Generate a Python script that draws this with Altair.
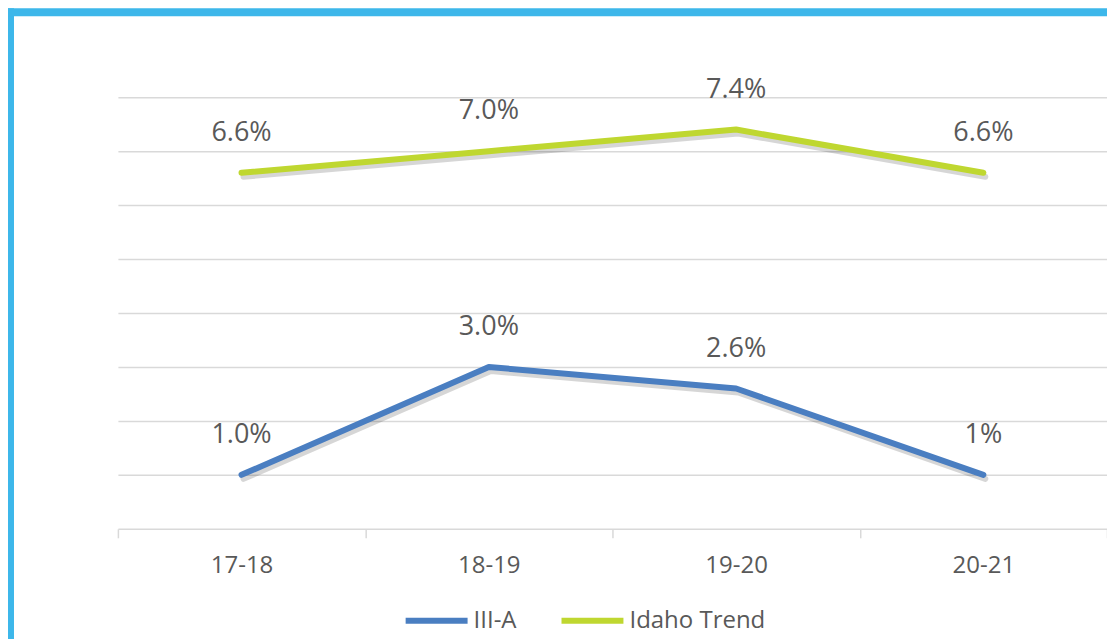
import altair as alt
import pandas as pd

years = ["17-18", "18-19", "19-20", "20-21"]
series_names = ["III-A", "Idaho Trend"]
iiia_values = [1.0, 3.0, 2.6, 1.0]
iiia_labels = ["1.0%", "3.0%", "2.6%", "1%"]
idaho_values = [6.6, 7.0, 7.4, 6.6]
idaho_labels = ["6.6%", "7.0%", "7.4%", "6.6%"]
colors = ["#4A7EC1", "#BFD730"]
grid_values = [1, 2, 3, 4, 5, 6, 7, 8]

rows = []
for y, v, l in zip(years, iiia_values, iiia_labels):
    rows.append({"year": y, "series": series_names[0], "value": v, "label": l})
for y, v, l in zip(years, idaho_values, idaho_labels):
    rows.append({"year": y, "series": series_names[1], "value": v, "label": l})
df = pd.DataFrame(rows)

FONT = "Open Sans"
GRAY = "#595959"

x_enc = alt.X(
    "year:N",
    sort=years,
    scale=alt.Scale(type="band", domain=years, paddingInner=0, paddingOuter=0),
    axis=alt.Axis(
        title=None,
        tickBand="extent",
        labelAngle=0,
        labelFont=FONT,
        labelFontSize=24,
        labelColor=GRAY,
        labelPadding=16,
        tickSize=9,
        tickColor="#D9D9D9",
        tickWidth=1.5,
        domainColor="#D9D9D9",
        domainWidth=1.5,
        grid=False,
    ),
)
y_enc = alt.Y(
    "value:Q",
    scale=alt.Scale(domain=[0, 8], nice=False, zero=True),
    axis=alt.Axis(
        title=None,
        labels=False,
        ticks=False,
        domain=False,
        grid=True,
        values=grid_values,
        gridColor="#D9D9D9",
        gridWidth=1.5,
    ),
)

base = alt.Chart(df)

shadow = base.mark_line(
    strokeWidth=6, strokeCap="round", strokeJoin="round",
    color="#000000", opacity=0.16, xOffset=2, yOffset=4
).encode(x=x_enc, y=y_enc, detail="series:N")

lines = base.mark_line(strokeWidth=6, strokeCap="round", strokeJoin="round").encode(
    x=x_enc,
    y=y_enc,
    color=alt.Color(
        "series:N",
        scale=alt.Scale(domain=series_names, range=colors),
        legend=alt.Legend(
            title=None,
            orient="none",
            direction="horizontal",
            legendX=285,
            legendY=490,
            symbolType="stroke",
            symbolSize=3844,
            symbolStrokeWidth=6,
            labelFont=FONT,
            labelFontSize=24,
            labelColor=GRAY,
            labelOffset=3,
            columnPadding=32,
            padding=0,
        ),
    ),
)

labels = base.mark_text(
    font=FONT, fontSize=27, color=GRAY, dy=-40, baseline="middle", align="center"
).encode(x=x_enc, y=y_enc, text="label:N")

border_data = alt.Data(values=[{"a": 1}])
left_border = alt.Chart(border_data).mark_rect(color="#3DB7EA").encode(
    x=alt.value(-110), x2=alt.value(-104), y=alt.value(-89), y2=alt.value(545)
)
top_border = alt.Chart(border_data).mark_rect(color="#3DB7EA").encode(
    x=alt.value(-110), x2=alt.value(1000), y=alt.value(-89), y2=alt.value(-81)
)

chart = alt.layer(shadow, lines, labels, left_border, top_border).properties(
    width=990,
    height=432,
    autosize=alt.AutoSizeParams(type="none"),
    padding={"left": 110, "top": 89, "right": 0, "bottom": 110},
    background="white",
).configure_view(stroke=None)

chart.save("out.html", embed_options={"renderer": "svg", "actions": False})
